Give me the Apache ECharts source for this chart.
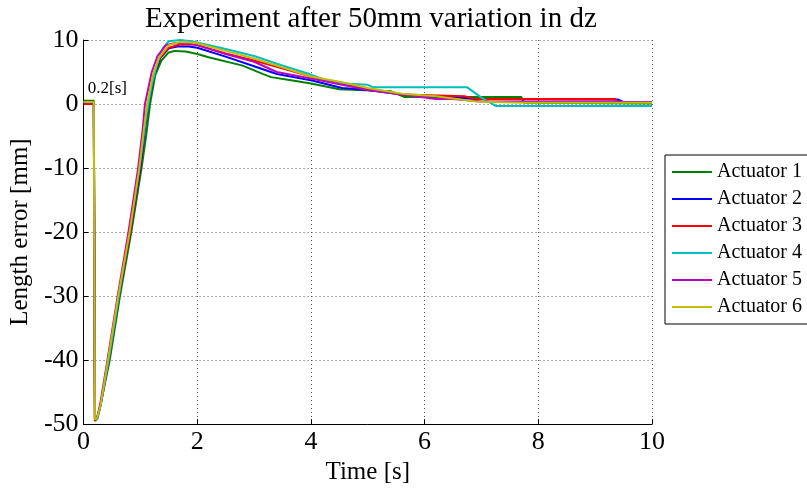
<!DOCTYPE html>
<html>
<head>
<meta charset="utf-8">
<script src="https://cdn.jsdelivr.net/npm/echarts@6/dist/echarts.min.js"></script>
<style>
  html, body { margin: 0; padding: 0; background: #fff; }
  #chart { width: 807px; height: 490px; }
</style>
</head>
<body>
<div id="chart"></div>
<script>
// [time s, length error mm] per actuator
const act1 = [[0, 0.5], [0.18, 0.5], [0.2, -49.3], [0.24, -49], [0.3, -47], [0.46, -40], [0.64, -30], [0.84, -20], [1.02, -10], [1.1, -5], [1.17, 0], [1.26, 4.5], [1.37, 6.8], [1.49, 8.0], [1.6, 8.3], [1.8, 8.2], [2.0, 7.8], [2.2, 7.3], [2.8, 6.0], [3.15, 4.7], [3.3, 4.2], [3.65, 3.7], [4.0, 3.2], [4.5, 2.3], [5.4, 2.0], [5.65, 1.1], [7.7, 1.1], [7.75, 0.2], [10, 0.1]]
const act2 = [[0, 0.2], [0.18, 0.2], [0.2, -49.2], [0.24, -49], [0.3, -47], [0.44, -40], [0.62, -30], [0.82, -20], [1.0, -10], [1.08, -4], [1.14, 0], [1.24, 4.5], [1.35, 7.2], [1.5, 8.7], [1.65, 9.0], [1.85, 9.0], [2.0, 8.8], [2.5, 7.4], [3.0, 5.9], [3.4, 4.7], [4.0, 3.7], [4.55, 2.5], [5.0, 2.2], [5.6, 1.5], [6.2, 1.2], [6.9, 0.8], [9.4, 0.7], [9.5, 0.3], [10, 0.3]]
const act3 = [[0, 0], [0.18, 0], [0.2, -49.5], [0.24, -49.2], [0.3, -47], [0.44, -40], [0.62, -30], [0.82, -20], [0.99, -10], [1.07, -4], [1.13, 0], [1.23, 4.5], [1.34, 7.2], [1.5, 8.8], [1.7, 9.3], [1.9, 9.3], [2.0, 9.2], [2.5, 7.9], [3.0, 6.8], [3.4, 5.8], [4.0, 4.3], [4.55, 3.1], [5.0, 2.4], [5.6, 1.5], [6.7, 1.2], [6.9, 0.8], [9.35, 0.8], [9.4, 0.3], [10, 0.3]]
const act4 = [[0, 0.3], [0.18, 0.3], [0.2, -49], [0.24, -49.3], [0.3, -47], [0.44, -40], [0.62, -30], [0.8, -20], [0.98, -10], [1.1, -2], [1.2, 3], [1.3, 6.5], [1.4, 8.8], [1.5, 9.8], [1.7, 10], [1.9, 9.8], [2.0, 9.6], [2.5, 8.6], [3.0, 7.5], [3.4, 6.3], [4.0, 4.6], [4.4, 3.3], [5.0, 3.0], [5.1, 2.6], [6.75, 2.6], [7.0, 1.0], [7.25, -0.3], [10, -0.3]]
const act5 = [[0, 0.2], [0.18, 0.2], [0.2, -49.2], [0.24, -49], [0.3, -46.5], [0.42, -40], [0.6, -30], [0.79, -20], [0.96, -10], [1.04, -4], [1.08, 0], [1.2, 5], [1.3, 7.5], [1.45, 9.2], [1.6, 9.5], [1.85, 9.4], [2.0, 9.2], [2.5, 7.8], [3.0, 6.6], [3.4, 5.0], [4.0, 4.0], [4.55, 3.0], [5.0, 2.2], [5.6, 1.5], [6.2, 0.8], [6.5, 0.8], [7.0, 0.4], [9.4, 0.4], [9.5, 0.3], [10, 0.3]]
const act6 = [[0, 0.3], [0.18, 0.3], [0.2, -49.3], [0.24, -49], [0.3, -47], [0.43, -40], [0.61, -30], [0.81, -20], [0.98, -10], [1.06, -4], [1.12, 0], [1.22, 4.5], [1.33, 7.3], [1.5, 9.2], [1.7, 9.7], [1.9, 9.6], [2.0, 9.5], [2.5, 8.3], [3.0, 7.1], [3.4, 6.0], [4.0, 4.3], [4.55, 3.4], [5.0, 2.5], [5.6, 1.6], [6.2, 1.2], [6.9, 0.4], [7.7, 0.2], [10, 0.2]]

const names = ['Actuator 1', 'Actuator 2', 'Actuator 3', 'Actuator 4', 'Actuator 5', 'Actuator 6']
const colors = ['#008000', '#0000ff', '#ff0000', '#00bfbf', '#bf00bf', '#bfbf00']
const seriesData = [act1, act2, act3, act4, act5, act6]

// note on the plot
const noteText = '0.2[s]'
const noteAt = [0.42, 2.45]

const font = 'Liberation Serif, Times New Roman, serif'
const chart = echarts.init(document.getElementById('chart'))

const series = seriesData.map((d, i) => ({
  name: names[i],
  type: 'line',
  data: d,
  symbol: 'none',
  color: colors[i],
  lineStyle: { width: 2 },
  animation: false
}))
series[0].markPoint = {
  symbolSize: 0,
  animation: false,
  label: {
    show: true,
    position: 'inside',
    formatter: noteText,
    color: '#000',
    fontFamily: font,
    fontSize: 17
  },
  data: [{ coord: noteAt }]
}

chart.setOption({
  backgroundColor: '#fff',
  title: {
    text: 'Experiment after 50mm variation in dz',
    left: 140,
    top: 0,
    textStyle: { fontFamily: font, fontSize: 29, fontWeight: 'normal', color: '#000' }
  },
  legend: {
    orient: 'vertical',
    left: 665,
    top: 155,
    padding: [7, 10, 7, 7],
    icon: 'rect',
    itemWidth: 40,
    itemHeight: 2,
    itemGap: 7,
    borderColor: '#000',
    borderWidth: 1,
    backgroundColor: '#fff',
    textStyle: { fontFamily: font, fontSize: 20, lineHeight: 20, color: '#000' },
    data: names
  },
  grid: {
    left: 82,
    right: 155,
    top: 40,
    bottom: 54
  },
  xAxis: {
    type: 'value',
    min: 0,
    max: 10,
    interval: 2,
    name: 'Time [s]',
    nameLocation: 'middle',
    nameGap: 27,
    nameTextStyle: { fontFamily: font, fontSize: 25, color: '#000' },
    axisLine: { show: true, onZero: false, lineStyle: { color: '#000', width: 1 } },
    axisTick: { show: true, inside: true, length: 5, lineStyle: { color: '#000' } },
    axisLabel: { fontFamily: font, fontSize: 26, color: '#000', margin: 5 },
    splitLine: { show: true, lineStyle: { color: '#555', type: [1, 3], width: 1 } }
  },
  yAxis: {
    type: 'value',
    min: -50,
    max: 10,
    interval: 10,
    name: 'Length error [mm]',
    nameLocation: 'middle',
    nameGap: 44,
    nameTextStyle: { fontFamily: font, fontSize: 25, color: '#000' },
    axisLine: { show: true, onZero: false, lineStyle: { color: '#000', width: 1 } },
    axisTick: { show: true, inside: true, length: 5, lineStyle: { color: '#000' } },
    axisLabel: { fontFamily: font, fontSize: 26, color: '#000', margin: 5 },
    splitLine: { show: true, lineStyle: { color: '#555', type: [1, 3], width: 1 } }
  },
  series: series
})
</script>
</body>
</html>
